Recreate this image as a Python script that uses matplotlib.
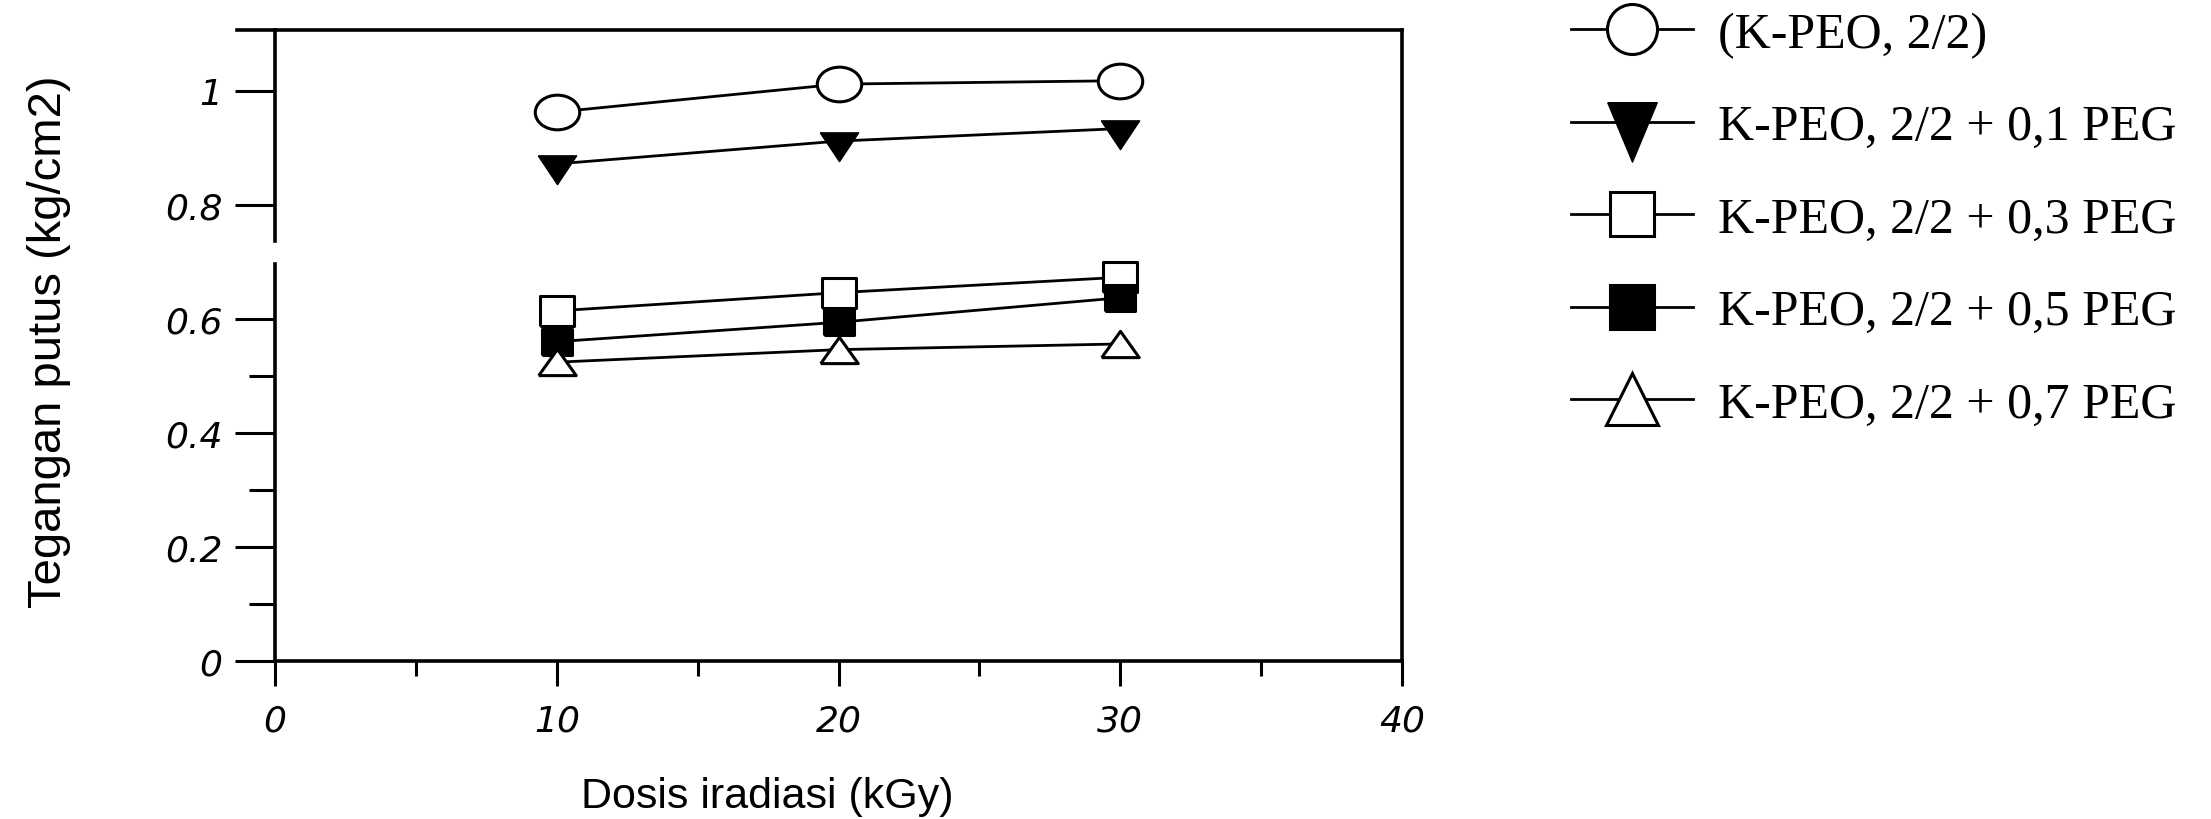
import matplotlib
matplotlib.use('Agg')
import matplotlib.pyplot as plt
from matplotlib.lines import Line2D
from matplotlib.path import Path
from matplotlib.transforms import Affine2D
from matplotlib.ticker import FixedLocator

# radiation dose (kGy) and breaking stress (kg/cm2) per blend
dosis = [10, 20, 30]
kpeo = [0.963, 1.012, 1.018]
peg_01 = [0.872, 0.912, 0.934]
peg_03 = [0.614, 0.646, 0.673]
peg_05 = [0.560, 0.594, 0.637]
peg_07 = [0.524, 0.546, 0.556]

labels = ['(K-PEO, 2/2)', 'K-PEO, 2/2 + 0,1 PEG', 'K-PEO, 2/2 + 0,3 PEG',
          'K-PEO, 2/2 + 0,5 PEG', 'K-PEO, 2/2 + 0,7 PEG']
xticks = [0, 10, 20, 30, 40]
xminor = [5, 15, 25, 35]
yticks = [0, 0.2, 0.4, 0.6, 0.8, 1]
yticklabels = ['0', '0.2', '0.4', '0.6', '0.8', '1']
yminor = [0.1, 0.3, 0.5]

# flattened marker shapes for the data points
ellipse = Path.unit_circle().transformed(Affine2D().scale(1, 0.78))
tri_down = [(-1, 0.45), (1, 0.45), (0, -1.05), (-1, 0.45)]
tri_up = [(-1, -0.7), (1, -0.7), (0, 0.7), (-1, -0.7)]
rect = [(-1, -0.88), (1, -0.88), (1, 0.88), (-1, 0.88), (-1, -0.88)]
tri_down_tall = [(-0.75, 0.6), (0.75, 0.6), (0, -1.2), (-0.75, 0.6)]

fig = plt.figure(figsize=(22.11, 8.2), dpi=100)
ax = fig.add_axes([0.1244, 0.193, 0.5097, 0.7692])

lw = 2.0
mew = 2.2
ax.plot(dosis, kpeo, color='k', lw=lw, marker=ellipse, ms=32, mfc='white', mec='k', mew=mew)
ax.plot(dosis, peg_01, color='k', lw=lw, marker=tri_down, ms=29, mfc='k', mec='k', mew=1)
ax.plot(dosis, peg_03, color='k', lw=lw, marker=rect, ms=24, mfc='white', mec='k', mew=mew)
ax.plot(dosis, peg_05, color='k', lw=lw, marker=rect, ms=22, mfc='k', mec='k', mew=mew)
ax.plot(dosis, peg_07, color='k', lw=lw, marker=tri_up, ms=27, mfc='white', mec='k', mew=mew)

ax.set_xlim(0, 40)
ax.set_ylim(0, 1.107)

for s in ax.spines.values():
    s.set_linewidth(2.6)

# broken y axis between 0.696 and 0.737
ax.spines['left'].set_bounds(0, 0.696)
ax.add_line(Line2D([0, 0], [0.737, 1.107], color='k', lw=2.6, clip_on=False,
                   transform=ax.get_yaxis_transform()))
ax.add_line(Line2D([-0.034, 0], [1, 1], color='k', lw=2.6, clip_on=False,
                   transform=ax.transAxes))

ax.xaxis.set_major_locator(FixedLocator(xticks))
ax.xaxis.set_minor_locator(FixedLocator(xminor))
ax.yaxis.set_major_locator(FixedLocator(yticks))
ax.yaxis.set_minor_locator(FixedLocator(yminor))
ax.set_xticklabels([str(v) for v in xticks])
ax.set_yticklabels(yticklabels)

ax.tick_params(axis='x', which='major', direction='out', length=18, width=2.2, pad=13)
ax.tick_params(axis='x', which='minor', direction='out', length=11, width=2.2)
ax.tick_params(axis='y', which='major', direction='out', length=29, width=2.2, pad=9)
ax.tick_params(axis='y', which='minor', direction='out', length=19, width=2.2)
for t in ax.get_xticklabels() + ax.get_yticklabels():
    t.set_fontfamily('DejaVu Sans')
    t.set_fontstyle('italic')
    t.set_fontsize(26)

ax.set_xlabel('Dosis iradiasi (kGy)', family='Liberation Sans', size=31)
ax.xaxis.set_label_coords(0.437, -0.182)
ax.set_ylabel('Tegangan putus (kg/cm2)', family='Liberation Sans', size=34)
ax.yaxis.set_label_coords(-0.181, 0.508)

handles = [
    Line2D([], [], color='k', lw=lw, marker='o', ms=36, mfc='white', mec='k', mew=mew),
    Line2D([], [], color='k', lw=lw, marker=tri_down_tall, ms=57, mfc='k', mec='k', mew=1),
    Line2D([], [], color='k', lw=lw, marker='s', ms=31, mfc='white', mec='k', mew=mew),
    Line2D([], [], color='k', lw=lw, marker='s', ms=31, mfc='k', mec='k', mew=mew),
    Line2D([], [], color='k', lw=lw, marker='^', ms=38, mfc='white', mec='k', mew=mew),
]
fig.legend(handles, labels, loc='upper left', bbox_to_anchor=(0.7105, 0.985),
           frameon=False, prop=dict(family='Liberation Serif', size=36),
           handlelength=2.44, handletextpad=0.5, labelspacing=0.92,
           borderpad=0, borderaxespad=0, numpoints=1)

fig.savefig('out.png', dpi=100, facecolor='white')
